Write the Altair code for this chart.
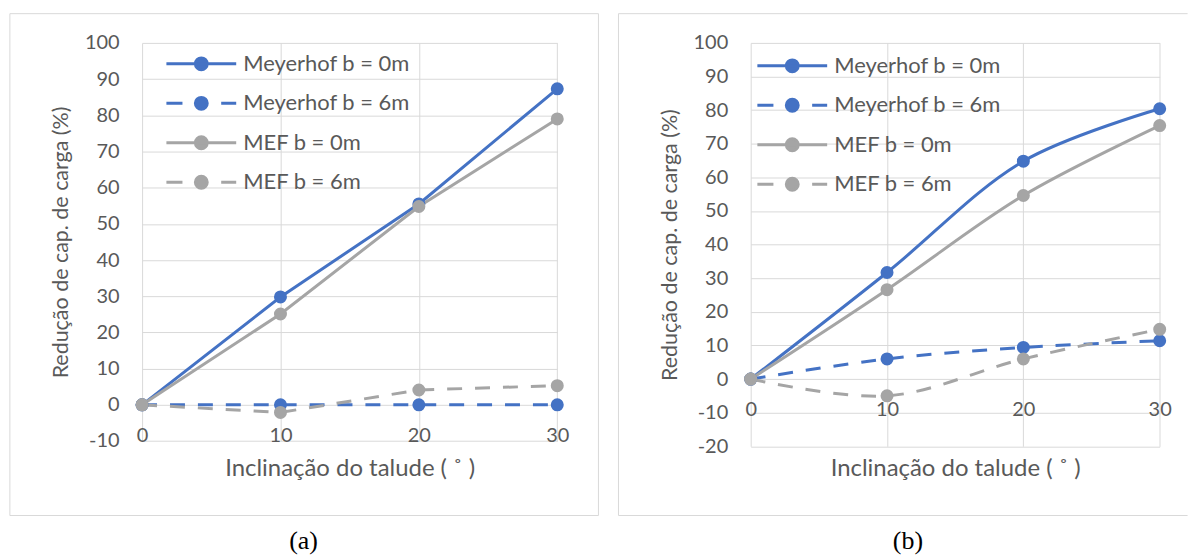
import altair as alt
import pandas as pd

# Slope inclination (degrees)
inclinacao = [0, 10, 20, 30]

series = ["Meyerhof b = 0m", "Meyerhof b = 6m", "MEF b = 0m", "MEF b = 6m"]
dashed_series = ["Meyerhof b = 6m", "MEF b = 6m"]

# (a) bearing-capacity reduction (%)
a_meyerhof_b0 = [0.0, 29.8, 55.5, 87.3]
a_meyerhof_b6 = [0.0, 0.0, 0.0, 0.0]
a_mef_b0 = [0.0, 25.1, 54.8, 79.0]
a_mef_b6 = [0.0, -2.1, 4.1, 5.3]

# (b) bearing-capacity reduction (%)
b_meyerhof_b0 = [0.0, 31.7, 64.8, 80.4]
b_meyerhof_b6 = [0.0, 6.0, 9.4, 11.4]
b_mef_b0 = [0.0, 26.6, 54.6, 75.4]
b_mef_b6 = [0.0, -5.0, 6.0, 14.8]

BLUE = "#4472C4"
GRAY = "#A5A5A5"
GRID = "#D9D9D9"
TEXT = "#595959"
FONT = "Lato"
DASH = [15, 13]

# legend glyphs: line with a marker in the middle (units of 7 px)
CIRCLE = "M0.85,0A0.85,0.85,0,1,1,-0.85,0A0.85,0.85,0,1,1,0.85,0Z"
SOLID = "M-5,0L5,0" + CIRCLE
DASHED = "M-5,0L-2.7,0M2.85,0L5,0" + CIRCLE


def long_table(columns):
    rows = []
    for name, vals in zip(series, columns):
        for xv, yv in zip(inclinacao, vals):
            rows.append({"serie": name, "inclinacao": xv, "reducao": yv})
    return pd.DataFrame(rows)


def panel(columns, y_min, width, height, interp, caption, legend_xy,
          caption_dx, frame_right, closed_frame):
    df = long_table(columns)
    zero_px = height * 100 / (100 - y_min)

    x_axis = alt.Axis(
        values=inclinacao, title="Inclinação do talude ( ˚ )", grid=True,
        domain=False, ticks=False, tickSize=0, labelFlush=False,
        labelPadding=zero_px + 31 - height, labelBaseline="middle",
        titleY=427 - height, titleBaseline="middle", titleFontSize=24,
    )
    y_axis = alt.Axis(
        values=list(range(y_min, 101, 10)), title="Redução de cap. de carga (%)",
        grid=True, domain=False, ticks=False, tickSize=0, labelPadding=23,
        labelExpr="'' + datum.value", titleFontSize=21.5,
        titleX=-80.8, titleY=height / 2, titleBaseline="middle", titleAngle=270,
    )
    x_enc = alt.X("inclinacao:Q", scale=alt.Scale(domain=[0, 30], nice=False), axis=x_axis)
    y_enc = alt.Y("reducao:Q", scale=alt.Scale(domain=[y_min, 100], nice=False, zero=False), axis=y_axis)

    shape_expr = f"indexof(datum.value, '6m') >= 0 ? '{DASHED}' : '{SOLID}'"
    color_expr = f"indexof(datum.value, 'Meyerhof') >= 0 ? '{BLUE}' : '{GRAY}'"
    legend = alt.Legend(
        title=None, orient="none", legendX=legend_xy[0], legendY=legend_xy[1],
        padding=0, symbolSize=196, symbolStrokeWidth=3, symbolOffset=24,
        symbolType={"expr": shape_expr},
        symbolFillColor={"expr": color_expr},
        symbolStrokeColor={"expr": color_expr},
        symbolOpacity=1,
        labelOffset=31, labelFont=FONT, labelFontSize=22,
        labelColor=TEXT, labelLimit=400, rowPadding=15.6,
    )
    color = alt.Color("serie:N", scale=alt.Scale(domain=series, range=[BLUE, BLUE, GRAY, GRAY]),
                      legend=legend)

    base = alt.Chart(df)
    is_dashed = alt.FieldOneOfPredicate(field="serie", oneOf=dashed_series)
    solid_lines = base.transform_filter(~is_dashed).mark_line(
        strokeWidth=3, interpolate=interp).encode(x=x_enc, y=y_enc, color=color)
    dashed_lines = base.transform_filter(is_dashed).mark_line(
        strokeWidth=3, interpolate=interp, strokeDash=DASH).encode(x=x_enc, y=y_enc, color=color)
    points = base.mark_point(filled=True, size=170, opacity=1).encode(
        x=x_enc, y=y_enc, color=color)

    box = alt.Chart(pd.DataFrame({"k": [0]}))
    fl, ft, fb = -132.6, -29.3, 474
    if closed_frame:
        frame = [box.mark_rect(fill="transparent", stroke=GRID, strokeWidth=1).encode(
            x=alt.value(fl), x2=alt.value(frame_right), y=alt.value(ft), y2=alt.value(fb))]
    else:
        frame = [
            box.mark_rule(stroke=GRID, strokeWidth=1).encode(
                x=alt.value(fl), x2=alt.value(frame_right), y=alt.value(ft)),
            box.mark_rule(stroke=GRID, strokeWidth=1).encode(
                x=alt.value(fl), x2=alt.value(frame_right), y=alt.value(fb)),
            box.mark_rule(stroke=GRID, strokeWidth=1).encode(
                x=alt.value(fl), y=alt.value(ft), y2=alt.value(fb)),
        ]

    return alt.layer(*frame, solid_lines, dashed_lines, points).properties(
        width=width, height=height,
        title=alt.TitleParams(caption, orient="bottom", anchor="middle", font="Liberation Serif",
                              fontSize=26, fontWeight="normal", color="black", offset=12,
                              dx=caption_dx),
    )


chart_a = panel([a_meyerhof_b0, a_meyerhof_b6, a_mef_b0, a_mef_b6], -10, 416.4, 399.3,
                "linear", "(a)", (24.4, 10), -46.3, 457.7, True)
chart_b = panel([b_meyerhof_b0, b_meyerhof_b6, b_mef_b0, b_mef_b6], -20, 410.2, 404.6,
                "catmull-rom", "(b)", (6.7, 12), -47.4, 438.2, False)

chart = alt.hconcat(chart_a, chart_b, spacing=17.4).resolve_scale(
    color="independent"
).properties(
    padding={"left": 8.5, "top": 12.2, "right": 0, "bottom": 0},
    background="white",
).configure_view(stroke=None).configure_axis(
    gridColor=GRID, gridWidth=1, labelFont=FONT, labelFontSize=20, labelColor=TEXT,
    titleFont=FONT, titleColor=TEXT, titleFontWeight="normal",
)

chart.save("out.html", embed_options={"renderer": "svg", "actions": False})
